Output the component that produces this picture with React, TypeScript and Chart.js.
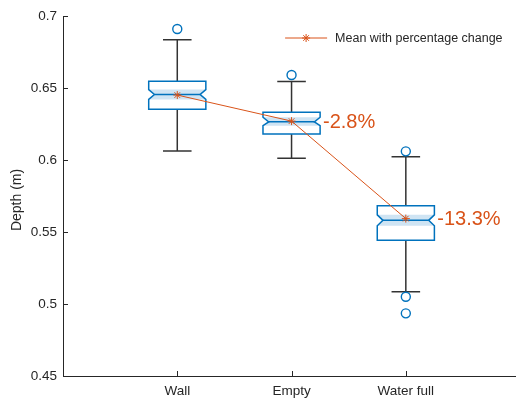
import { useEffect, useRef } from "react";
import { Chart, registerables } from "chart.js";

Chart.register(...registerables);

// Groups along the x axis
const categories = ["Wall", "Empty", "Water full"];

// Box statistics per group (metres)
const lowerWhisker = [0.6063, 0.6012, 0.5085];
const q1 = [0.6352, 0.618, 0.5443];
const notchLow = [0.6421, 0.6238, 0.5543];
const median = [0.6455, 0.6265, 0.5581];
const notchHigh = [0.6489, 0.6297, 0.5619];
const q3 = [0.6547, 0.6332, 0.5683];
const upperWhisker = [0.6835, 0.6545, 0.6023];
const outliers = [[0.691], [0.659], [0.606, 0.505, 0.4935]];

// Group means, joined by the line
const means = [0.6451, 0.627, 0.5593];

const yTicks = [0.45, 0.5, 0.55, 0.6, 0.65, 0.7];
const yTitle = "Depth (m)";
const legendLabel = "Mean with percentage change";

const FONT = '"Liberation Sans", Arial, Helvetica, sans-serif';
const BLUE = "#0072BD";
const ORANGE = "#D95319";
const AXIS = "#262626";
const WHISKER = "#333333";
const BAND = "#cfe4f3";

const BOX_HALF = 0.25; // half box width in x units
const CAP_HALF = 0.125;
const NOTCH_IN = 0.05;

function drawStar(ctx: CanvasRenderingContext2D, x: number, y: number, r: number) {
  const d = r * Math.SQRT1_2;
  ctx.beginPath();
  ctx.moveTo(x - r, y);
  ctx.lineTo(x + r, y);
  ctx.moveTo(x, y - r);
  ctx.lineTo(x, y + r);
  ctx.moveTo(x - d, y - d);
  ctx.lineTo(x + d, y + d);
  ctx.moveTo(x - d, y + d);
  ctx.lineTo(x + d, y - d);
  ctx.stroke();
}

const boxPlugin = {
  id: "notchedBoxes",
  beforeDatasetsDraw(chart: any) {
    const { ctx } = chart;
    const xs = chart.scales.x;
    const ys = chart.scales.y;
    const unit = xs.getPixelForValue(1) - xs.getPixelForValue(0);
    ctx.save();
    categories.forEach((_, i) => {
      const cx = xs.getPixelForValue(i + 1);
      const hw = BOX_HALF * unit;
      const cw = CAP_HALF * unit;
      const ni = NOTCH_IN * unit;
      const yLw = ys.getPixelForValue(lowerWhisker[i]);
      const yQ1 = ys.getPixelForValue(q1[i]);
      const yNl = ys.getPixelForValue(notchLow[i]);
      const yMed = ys.getPixelForValue(median[i]);
      const yNh = ys.getPixelForValue(notchHigh[i]);
      const yQ3 = ys.getPixelForValue(q3[i]);
      const yUw = ys.getPixelForValue(upperWhisker[i]);

      // whiskers and caps
      ctx.strokeStyle = WHISKER;
      ctx.lineWidth = 1.5;
      ctx.beginPath();
      ctx.moveTo(cx, yQ3);
      ctx.lineTo(cx, yUw);
      ctx.moveTo(cx - cw, yUw);
      ctx.lineTo(cx + cw, yUw);
      ctx.moveTo(cx, yQ1);
      ctx.lineTo(cx, yLw);
      ctx.moveTo(cx - cw, yLw);
      ctx.lineTo(cx + cw, yLw);
      ctx.stroke();

      // white box body
      ctx.fillStyle = "#ffffff";
      ctx.fillRect(cx - hw, yQ3, hw * 2, yQ1 - yQ3);

      // shaded notch band
      ctx.fillStyle = BAND;
      ctx.beginPath();
      ctx.moveTo(cx - hw, yNh);
      ctx.lineTo(cx + hw, yNh);
      ctx.lineTo(cx + hw - ni, yMed);
      ctx.lineTo(cx + hw, yNl);
      ctx.lineTo(cx - hw, yNl);
      ctx.lineTo(cx - hw + ni, yMed);
      ctx.closePath();
      ctx.fill();

      // notched outline
      ctx.strokeStyle = BLUE;
      ctx.lineWidth = 1.5;
      ctx.lineJoin = "miter";
      ctx.beginPath();
      ctx.moveTo(cx - hw, yQ3);
      ctx.lineTo(cx + hw, yQ3);
      ctx.lineTo(cx + hw, yNh);
      ctx.lineTo(cx + hw - ni, yMed);
      ctx.lineTo(cx + hw, yNl);
      ctx.lineTo(cx + hw, yQ1);
      ctx.lineTo(cx - hw, yQ1);
      ctx.lineTo(cx - hw, yNl);
      ctx.lineTo(cx - hw + ni, yMed);
      ctx.lineTo(cx - hw, yNh);
      ctx.closePath();
      ctx.stroke();

      // median
      ctx.beginPath();
      ctx.moveTo(cx - hw + ni, yMed);
      ctx.lineTo(cx + hw - ni, yMed);
      ctx.stroke();
    });
    ctx.restore();
  },
  afterDraw(chart: any) {
    const { ctx, chartArea } = chart;
    const xs = chart.scales.x;
    const ys = chart.scales.y;
    const unit = xs.getPixelForValue(1) - xs.getPixelForValue(0);
    ctx.save();

    // inward tick marks
    ctx.strokeStyle = AXIS;
    ctx.lineWidth = 1;
    ctx.beginPath();
    yTicks.forEach((v) => {
      const py = Math.round(ys.getPixelForValue(v)) + 0.5;
      ctx.moveTo(chartArea.left, py);
      ctx.lineTo(chartArea.left + 5, py);
    });
    categories.forEach((_, i) => {
      const px = Math.round(xs.getPixelForValue(i + 1)) + 0.5;
      ctx.moveTo(px, chartArea.bottom);
      ctx.lineTo(px, chartArea.bottom - 5);
    });
    ctx.stroke();

    // y axis title
    ctx.save();
    ctx.translate(17, (chartArea.top + chartArea.bottom) / 2 + 4);
    ctx.rotate(-Math.PI / 2);
    ctx.fillStyle = AXIS;
    ctx.font = `14px ${FONT}`;
    ctx.textAlign = "center";
    ctx.textBaseline = "middle";
    ctx.fillText(yTitle, 0, 0);
    ctx.restore();

    // percentage change of each mean relative to the first group
    ctx.fillStyle = ORANGE;
    ctx.font = `20px ${FONT}`;
    ctx.textAlign = "left";
    ctx.textBaseline = "middle";
    means.forEach((m, i) => {
      if (i === 0) return;
      const pct = ((m - means[0]) / means[0]) * 100;
      const px = xs.getPixelForValue(i + 1) + (BOX_HALF + 0.025) * unit;
      const py = ys.getPixelForValue(m);
      ctx.fillText(`${pct.toFixed(1)}%`, px, py + 1);
    });

    // legend
    const lx = chartArea.right - 235;
    const ly = chartArea.top + 22;
    ctx.strokeStyle = ORANGE;
    ctx.lineWidth = 1;
    ctx.beginPath();
    ctx.moveTo(lx, ly);
    ctx.lineTo(lx + 42, ly);
    ctx.stroke();
    drawStar(ctx, lx + 21, ly, 4);
    ctx.fillStyle = AXIS;
    ctx.font = `12.5px ${FONT}`;
    ctx.fillText(legendLabel, lx + 50, ly + 1);

    ctx.restore();
  },
};

export default function App() {
  const canvasRef = useRef<HTMLCanvasElement | null>(null);

  useEffect(() => {
    const canvas = canvasRef.current;
    if (!canvas) return;
    const outlierPoints = outliers.flatMap((vals, i) => vals.map((v) => ({ x: i + 1, y: v })));
    const chart = new Chart(canvas, {
      type: "scatter",
      data: {
        datasets: [
          {
            label: legendLabel,
            data: means.map((m, i) => ({ x: i + 1, y: m })),
            showLine: true,
            borderColor: ORANGE,
            backgroundColor: ORANGE,
            borderWidth: 1,
            pointStyle: "star",
            pointRadius: 4,
            pointBorderWidth: 1,
            order: 0,
          } as any,
          {
            label: "Outliers",
            data: outlierPoints,
            borderColor: BLUE,
            backgroundColor: "rgba(0,0,0,0)",
            pointStyle: "circle",
            pointRadius: 4.5,
            pointBorderWidth: 1.4,
            order: 1,
          },
        ],
      },
      options: {
        responsive: false,
        animation: false,
        events: [],
        layout: { padding: { top: 16, left: 0, right: 0, bottom: 0 } },
        plugins: { legend: { display: false }, tooltip: { enabled: false } },
        scales: {
          x: {
            type: "linear",
            min: 0,
            max: 4,
            afterFit(s: any) {
              s.height = 27;
            },
            afterBuildTicks(s: any) {
              s.ticks = categories.map((_, i) => ({ value: i + 1 }));
            },
            ticks: {
              callback: (v: any) => categories[Math.round(Number(v)) - 1] ?? "",
              font: { family: FONT, size: 13.5 },
              color: AXIS,
              padding: 7,
              maxRotation: 0,
              autoSkip: false,
            },
            grid: { display: false, drawTicks: false, tickLength: 0 },
            border: { display: true, color: AXIS, width: 1 },
          },
          y: {
            min: 0.45,
            max: 0.7,
            afterFit(s: any) {
              s.width = 63;
            },
            afterBuildTicks(s: any) {
              s.ticks = yTicks.map((v) => ({ value: v }));
            },
            ticks: {
              callback: (v: any) => String(v),
              font: { family: FONT, size: 13.5 },
              color: AXIS,
              padding: 6,
            },
            grid: { display: false, drawTicks: false, tickLength: 0 },
            border: { display: true, color: AXIS, width: 1 },
          },
        },
      },
      plugins: [boxPlugin],
    });
    return () => chart.destroy();
  }, []);

  return (
    <div
      style={{
        position: "fixed",
        left: 0,
        top: 0,
        width: 516,
        height: 403,
        overflow: "hidden",
        background: "#ffffff",
      }}
    >
      <canvas ref={canvasRef} width={526} height={403} style={{ display: "block" }} />
    </div>
  );
}
